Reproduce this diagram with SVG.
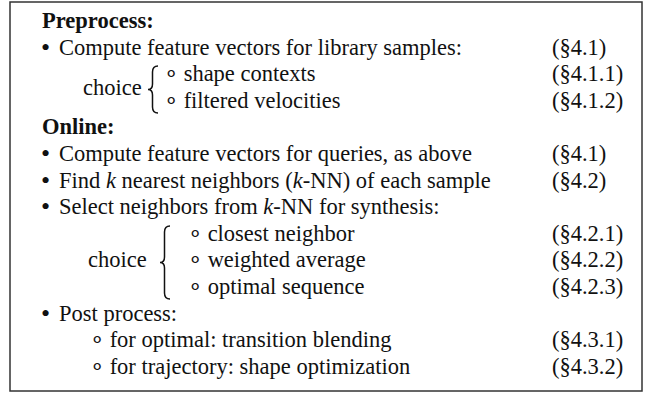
<svg xmlns="http://www.w3.org/2000/svg" width="651" height="394" viewBox="0 0 651 394">
<style>
text{font-family:"Liberation Serif","Times New Roman",serif;font-size:22.5px;fill:#111}
.b{font-weight:bold}
.i{font-style:italic}
.bul{font-size:26px}
.frame{fill:#fff;stroke:#333;stroke-width:1.5}
.brace{fill:none;stroke:#111;stroke-width:1.5}
</style>
<rect width="651" height="394" fill="#fff"/>
<g id="frame"><rect class="frame" x="10" y="2" width="632" height="389"/></g>
<g id="preprocess">
<text class="b" x="42" y="28">Preprocess:</text>
<text class="bul" x="41" y="55.6">•</text>
<text x="59" y="54.6">Compute feature vectors for library samples:</text>
<text x="552" y="54.6">(§4.1)</text>
<text x="83" y="94.5">choice</text>
<path class="brace" d="M158,66 Q152.5,66 152.5,72 L152.5,84 Q152.5,89.5 148,89.5 Q152.5,89.5 152.5,95 L152.5,107 Q152.5,113 158,113"/>
<text x="164" y="81.2">∘ shape contexts</text>
<text x="552" y="81.2">(§4.1.1)</text>
<text x="164" y="107.8">∘ filtered velocities</text>
<text x="552" y="107.8">(§4.1.2)</text>
</g>
<g id="online">
<text class="b" x="42" y="134.4">Online:</text>
<text class="bul" x="41" y="162">•</text>
<text x="59" y="161">Compute feature vectors for queries, as above</text>
<text x="552" y="161">(§4.1)</text>
<text class="bul" x="41" y="188.6">•</text>
<text x="59" y="187.6">Find <tspan class="i">k</tspan> nearest neighbors (<tspan class="i">k</tspan>-NN) of each sample</text>
<text x="552" y="187.6">(§4.2)</text>
<text class="bul" x="41" y="215.2">•</text>
<text x="59" y="214.2">Select neighbors from <tspan class="i">k</tspan>-NN for synthesis:</text>
<text x="88" y="267.4">choice</text>
<path class="brace" d="M170,226 Q164.5,226 164.5,232 L164.5,257 Q164.5,262.5 160,262.5 Q164.5,262.5 164.5,268 L164.5,293 Q164.5,299 170,299"/>
<text x="188" y="240.8">∘ closest neighbor</text>
<text x="552" y="240.8">(§4.2.1)</text>
<text x="188" y="267.4">∘ weighted average</text>
<text x="552" y="267.4">(§4.2.2)</text>
<text x="188" y="294">∘ optimal sequence</text>
<text x="552" y="294">(§4.2.3)</text>
<text class="bul" x="41" y="321.6">•</text>
<text x="59" y="320.6">Post process:</text>
<text x="90" y="347.2">∘ for optimal: transition blending</text>
<text x="552" y="347.2">(§4.3.1)</text>
<text x="90" y="373.8">∘ for trajectory: shape optimization</text>
<text x="552" y="373.8">(§4.3.2)</text>
</g>
</svg>
